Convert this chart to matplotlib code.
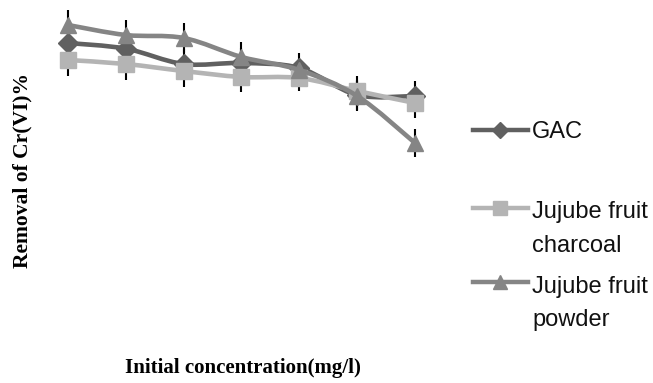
import numpy as np
import matplotlib
matplotlib.use("Agg")
import matplotlib.pyplot as plt
from matplotlib.path import Path
from matplotlib.patches import PathPatch
from matplotlib.lines import Line2D

concentrations = [1, 2, 3, 4, 5, 6, 7]
gac = [92.1, 90.4, 85.8, 86.1, 84.6, 76.5, 76.2]
charcoal = [87.0, 85.8, 83.7, 81.9, 81.6, 77.7, 74.1]
powder = [97.5, 94.5, 93.6, 87.9, 84.0, 76.2, 62.1]
gac_err = [4.5, 4.5, 4.5, 4.5, 4.5, 4.5, 4.5]
charcoal_err = [4.8, 4.8, 4.8, 4.5, 4.0, 4.5, 4.5]
powder_err = [4.5, 4.5, 4.5, 4.5, 2.0, 4.5, 4.3]
labels = [["GAC"], ["Jujube fruit", "charcoal"], ["Jujube fruit", "powder"]]

colors = ["#606060", "#b4b4b4", "#858585"]
markers = ["D", "s", "^"]
msizes = [10.5, 12, 12]

fig = plt.figure(figsize=(6.53, 3.83), dpi=100)
ax = fig.add_axes([39/653, 53/383, 405/653, 330/383])
ax.set_xlim(0.5, 7.5)
ax.set_ylim(6, 105)
ax.axis("off")


def smooth_path(x, y, t=1/6):
    x = np.asarray(x, float); y = np.asarray(y, float)
    verts = [(x[0], y[0])]
    codes = [Path.MOVETO]
    n = len(x)
    for i in range(n - 1):
        p0 = (x[max(i-1, 0)], y[max(i-1, 0)])
        p1 = (x[i], y[i]); p2 = (x[i+1], y[i+1])
        p3 = (x[min(i+2, n-1)], y[min(i+2, n-1)])
        c1 = (p1[0] + (p2[0]-p0[0])*t, p1[1] + (p2[1]-p0[1])*t)
        c2 = (p2[0] - (p3[0]-p1[0])*t, p2[1] - (p3[1]-p1[1])*t)
        verts += [c1, c2, p2]
        codes += [Path.CURVE4]*3
    return Path(verts, codes)

series = [(gac, gac_err), (charcoal, charcoal_err), (powder, powder_err)]
for i, (vals, err) in enumerate(series):
    ax.errorbar(concentrations, vals, yerr=err, fmt="none", ecolor="black",
                elinewidth=1.5, capsize=0, zorder=1)
for i, (vals, err) in enumerate(series):
    ax.add_patch(PathPatch(smooth_path(concentrations, vals), fill=False,
                           edgecolor=colors[i], lw=3.3, zorder=2+i,
                           capstyle="round", joinstyle="round"))
    ax.plot(concentrations, vals, linestyle="none", marker=markers[i],
            ms=msizes[i], color=colors[i], mec=colors[i], zorder=2+i)

# legend
leg_y = [130, 208, 282]
baselines = [[138], [218, 252], [293, 326]]
for i in range(3):
    yf = 1 - leg_y[i]/383
    fig.add_artist(Line2D([473/653, 528/653], [yf, yf], color=colors[i], lw=3.2,
                          transform=fig.transFigure))
    fig.add_artist(Line2D([500/653], [yf], marker=markers[i], ms=msizes[i]*0.8,
                          color=colors[i], transform=fig.transFigure))
    for txt, b in zip(labels[i], baselines[i]):
        fig.text(532/653, 1 - b/383, txt, fontsize=17, family="Liberation Sans",
                 va="baseline", ha="left", color="#111111")

fig.text(22/653, 1 - 170/383, "Removal of Cr(VI)%", rotation=90,
         fontsize=15.5, fontweight="bold", family="Liberation Serif",
         ha="center", va="center")
fig.text(243/653, 1 - 368/383, "Initial concentration(mg/l)",
         fontsize=15, fontweight="bold", family="Liberation Serif",
         ha="center", va="center")

fig.savefig("out.png", dpi=100)
